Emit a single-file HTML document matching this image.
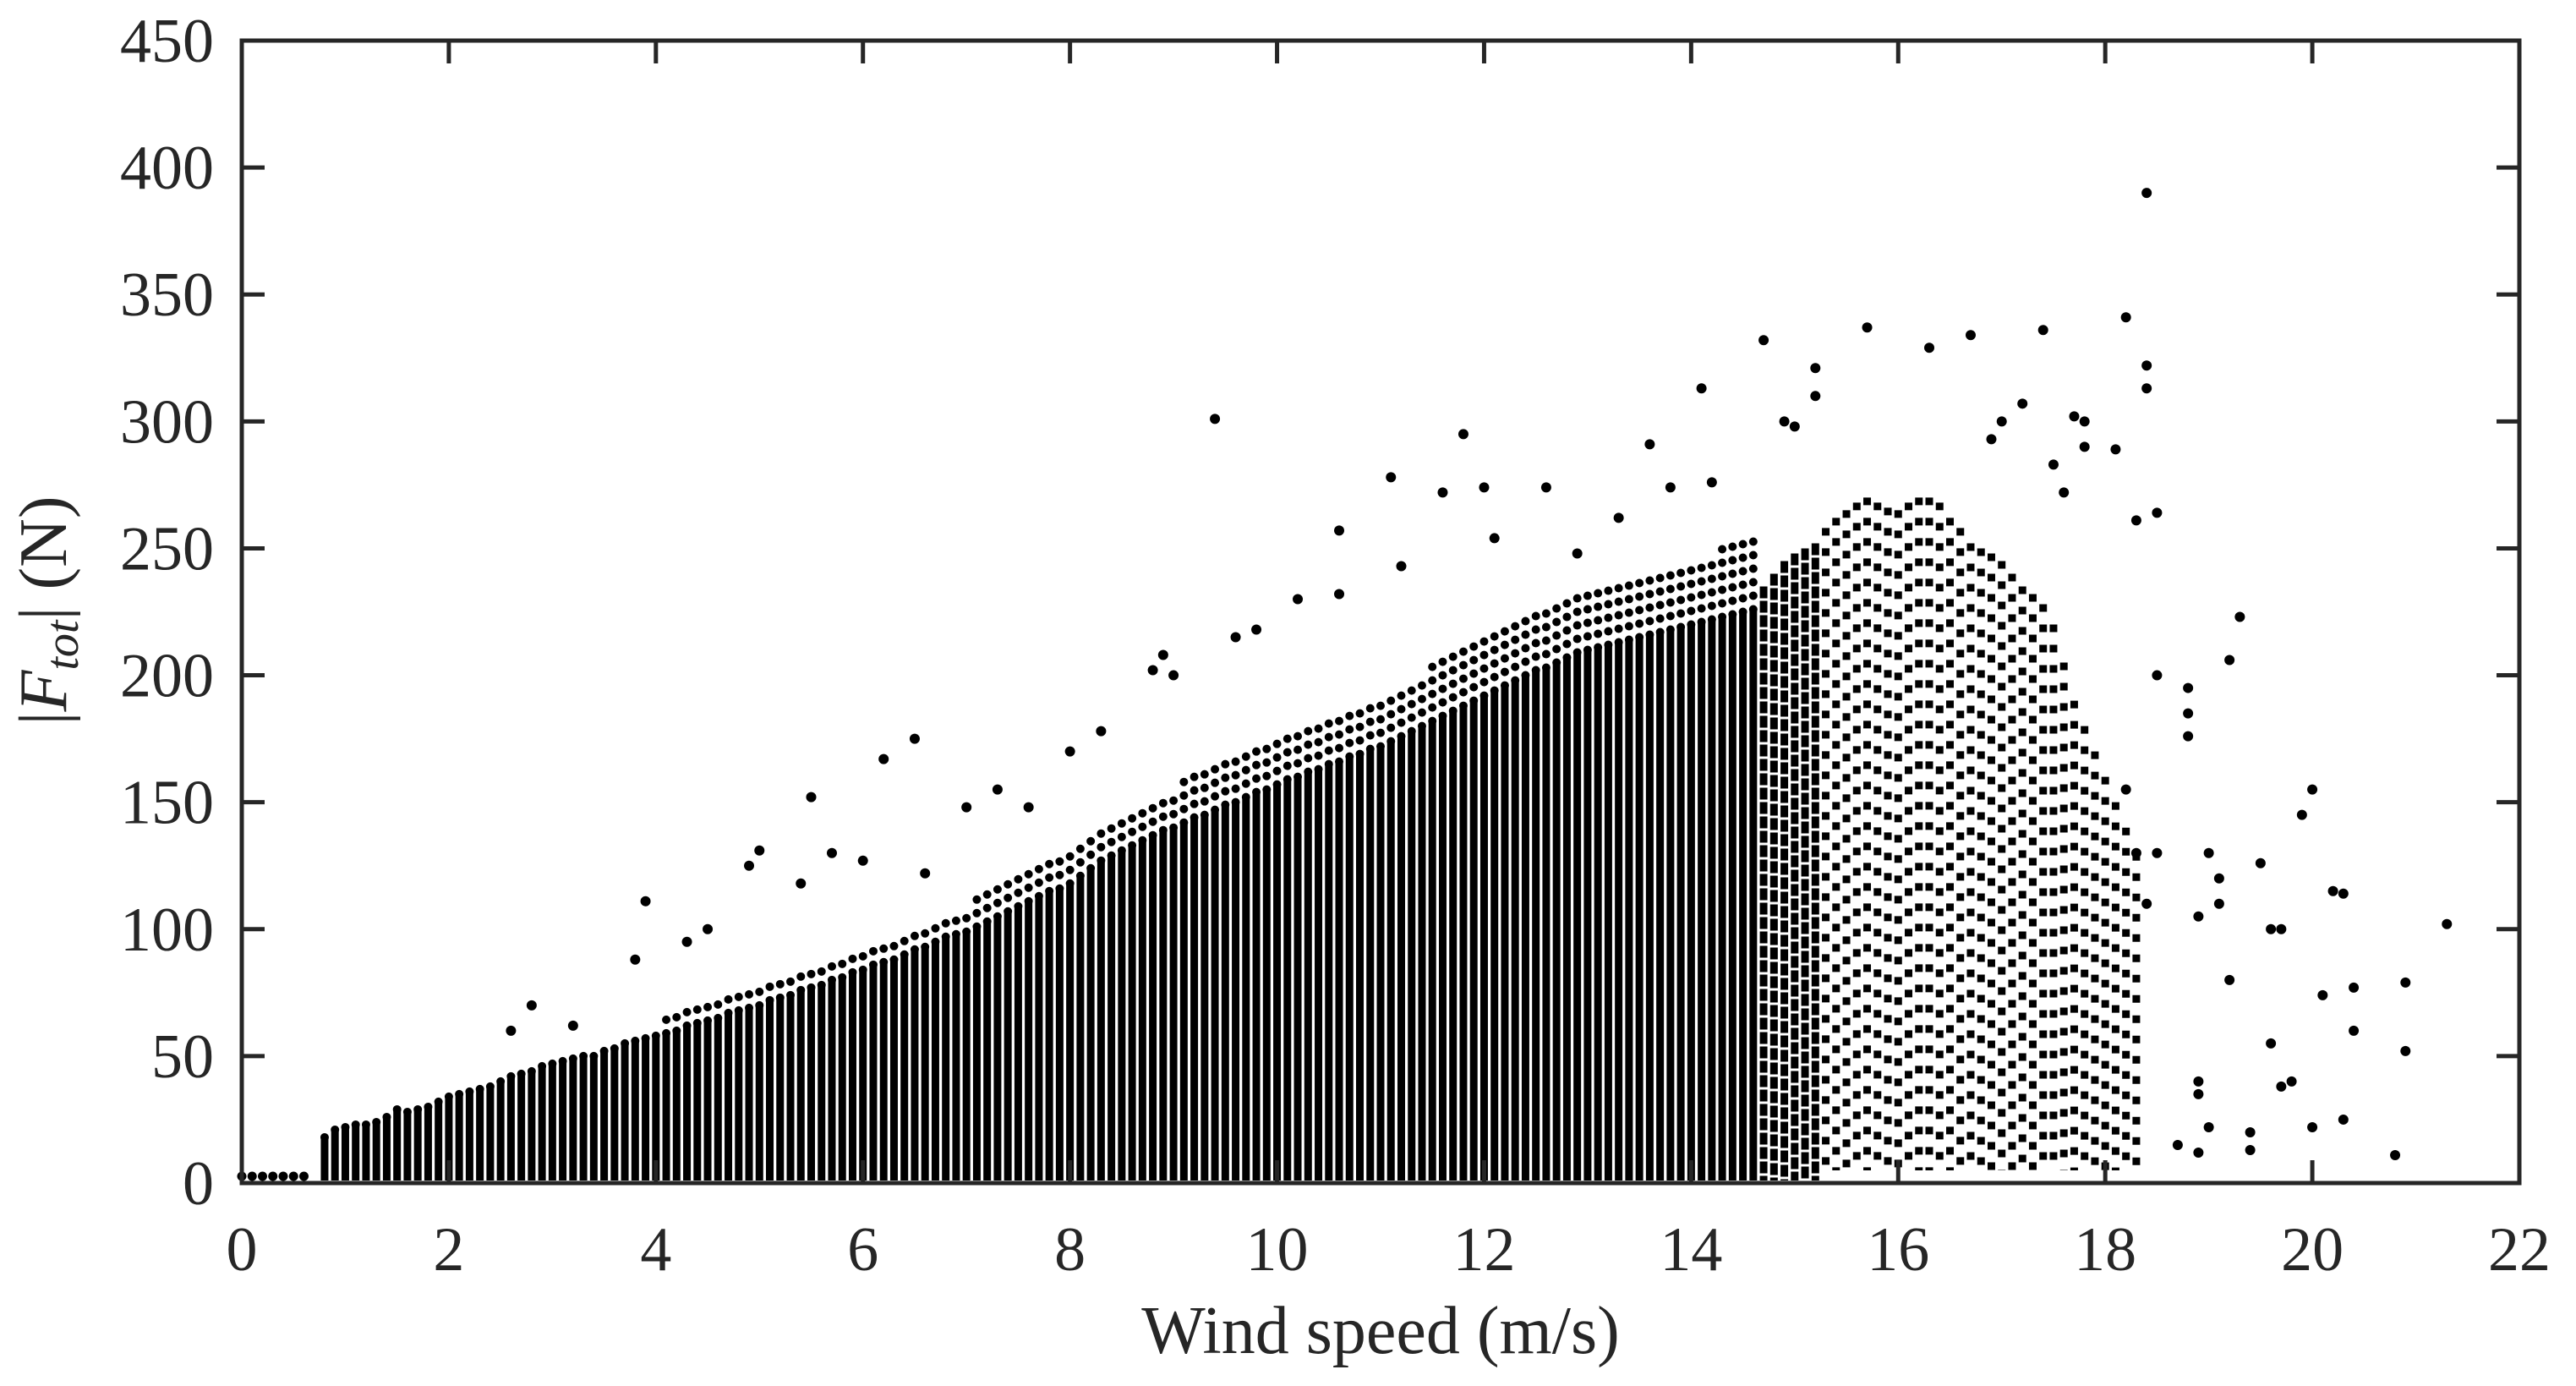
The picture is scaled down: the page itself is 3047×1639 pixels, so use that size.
<!DOCTYPE html>
<html><head><meta charset="utf-8"><style>
html,body{margin:0;padding:0;background:#fff}
svg{display:block}
text{font-family:"Liberation Serif","DejaVu Serif",serif;fill:#262626}
</style></head><body>
<svg id="chart" width="3047" height="1639" viewBox="0 0 3047 1639" xmlns="http://www.w3.org/2000/svg" font-family="Liberation Serif, serif">
<g id="marks"></g>
<g id="axes"></g>
<text x="1633" y="1600" font-size="80" text-anchor="middle" style="font-family:'Liberation Serif',serif">Wind speed (m/s)</text>
<text transform="translate(78,722) rotate(-90)" font-size="80" text-anchor="middle" style="font-family:'Liberation Serif',serif">|<tspan font-style="italic">F</tspan><tspan font-style="italic" font-size="56" dy="14">tot</tspan><tspan dy="-14">| (N)</tspan></text>
</svg>
<script>
const xTicks=[0,2,4,6,8,10,12,14,16,18,20,22];
const yTicks=[0,50,100,150,200,250,300,350,400,450];
const denseStart=0.8;
const denseTops=[16,19,
20,21,21,22,24,27,26,27,28,30,
32,33,34,35,36,38,40,41,42,44,
45,46,47,48,48,50,51,53,54,55,
56,57,58,60,61,62,63,65,66,67,
68,70,71,72,74,75,76,78,79,81,
82,84,85,86,88,90,91,93,95,96,
97,99,101,103,105,107,109,111,113,114,
116,119,122,125,127,129,131,133,135,137,
138,140,142,143,145,147,148,150,152,153,
155,157,158,160,161,163,164,166,167,169,
170,172,174,176,178,180,182,184,186,188,
190,192,194,196,198,200,201,203,205,207,
208,209,210,211,212,213,214,215,216,217,
218,219,220,221,222,223,224];
const midStart=14.7;
const midTops=[235,240,245,248,250,252];
const sparseStart=15.3;
const sparseTops=[258,262,265,268,270,268,266,265,268,270,270,268,262,258,252,250,248,245,240,235,232,228,220,205,190,180,170,160,150,140,130];
const lowX=[0,0.1,0.2,0.3,0.4,0.5,0.6];
const lowY=[2,2,2,2,2,2,2];
const outX=[9.4,18.4,18.2,15.7,17.4,16.7,14.7,16.3,15.2,14.1,11.8,13.6,11.1,12.6,12.0,10.6,6.5,6.2,5.5,3.9,8.9,19.3,19.2,18.8,20.0,20.2,20.3,21.3,20.9,20.9,20.8,20.4,20.4,20.1,20.0,20.3,19.8,19.7,19.5,19.4,19.4,19.0,19.1,18.9,19.2,18.7,18.9,19.6,19.7,19.6,19.9,18.9,18.9,18.5,18.4,18.4,18.3,18.5,18.2,18.3,18.5,18.4,17.7,17.8,17.8,18.1,17.5,17.6,17.2,17.0,16.9,2.8,2.6,3.2,3.8,4.3,4.5,4.9,5.0,5.4,5.7,6.0,6.6,7.0,7.3,7.6,8.0,8.3,8.8,9.0,9.6,9.8,10.2,10.6,11.2,11.6,12.1,12.9,13.3,13.8,14.2,14.9,15.0,15.2,18.8,18.8,19.0,19.1];
const outY=[301,390,341,337,336,334,332,329,321,313,295,291,278,274,274,257,175,167,152,111,208,223,206,185,155,115,114,102,79,52,11,77,60,74,22,25,40,38,126,20,13,22,120,105,80,15,12,100,100,55,145,40,35,264,322,313,261,200,155,130,130,110,302,300,290,289,283,272,307,300,293,70,60,62,88,95,100,125,131,118,130,127,122,148,155,148,170,178,202,200,215,218,230,232,243,272,254,248,262,274,276,300,298,310,195,176,130,110];

const L=286,R=2980,T=48,B=1399;
const xs=v=>L+(v-0)/(22-0)*(R-L);
const ys=v=>B-(v-0)/(450-0)*(B-T);
const NS="http://www.w3.org/2000/svg";
const marks=document.getElementById('marks');
const axes=document.getElementById('axes');
function mk(tag,attrs,parent){const e=document.createElementNS(NS,tag);for(const k in attrs)e.setAttribute(k,attrs[k]);parent.appendChild(e);return e;}

denseTops.forEach((t,i)=>{
  const x=xs(denseStart+i*0.1);
  const r=mk('rect',{x:x-4.5,y:ys(t)-4,width:9,height:ys(1)-ys(t)+4,fill:'#000'},marks);
  
  
  const f=mk('line',{x1:x,x2:x,y1:ys(t)-6,y2:ys(t*1.13),stroke:'#000','stroke-width':10,'stroke-linecap':'round','stroke-dasharray':'0 16'},marks);
  
  
});
midTops.forEach((t,i)=>{
  const x=xs(midStart+i*0.1);
  const l=mk('line',{x1:x,x2:x,y1:ys(t),y2:ys(1),stroke:'#000','stroke-width':9,'stroke-dasharray':'14 3'},marks);
  
  
});
sparseTops.forEach((t,i)=>{
  const x=xs(sparseStart+i*0.1);
  const l=mk('line',{x1:x,x2:x,y1:ys(t),y2:ys(5),stroke:'#000','stroke-width':9,'stroke-dasharray':'9 15'},marks);
  
  
});
lowX.forEach((v,i)=>{
  const c=mk('circle',{cx:xs(v),cy:ys(lowY[i])-2,r:5.5,fill:'#000'},marks);
  
  
});
outX.forEach((v,i)=>{
  const c=mk('circle',{cx:xs(v),cy:ys(outY[i]),r:6,fill:'#000'},marks);
  
  
});

const box=mk('rect',{x:L,y:T,width:R-L,height:B-T,fill:'none',stroke:'#262626','stroke-width':5},axes);


xTicks.forEach(v=>{
  const x=xs(v);
  mk('line',{x1:x,x2:x,y1:B,y2:B-27,stroke:'#262626','stroke-width':5},axes);
  mk('line',{x1:x,x2:x,y1:T,y2:T+27,stroke:'#262626','stroke-width':5},axes);
  const t=mk('text',{x:x,y:1502,'font-size':'74','text-anchor':'middle',style:"font-family:'Liberation Serif',serif"},axes);
  t.textContent=v;
  
  
});
yTicks.forEach(v=>{
  const y=ys(v);
  mk('line',{x1:L,x2:L+27,y1:y,y2:y,stroke:'#262626','stroke-width':5},axes);
  mk('line',{x1:R,x2:R-27,y1:y,y2:y,stroke:'#262626','stroke-width':5},axes);
  const t=mk('text',{x:253,y:y+25,'font-size':'74','text-anchor':'end',style:"font-family:'Liberation Serif',serif"},axes);
  t.textContent=v;
  
  
});
</script>
</body></html>
